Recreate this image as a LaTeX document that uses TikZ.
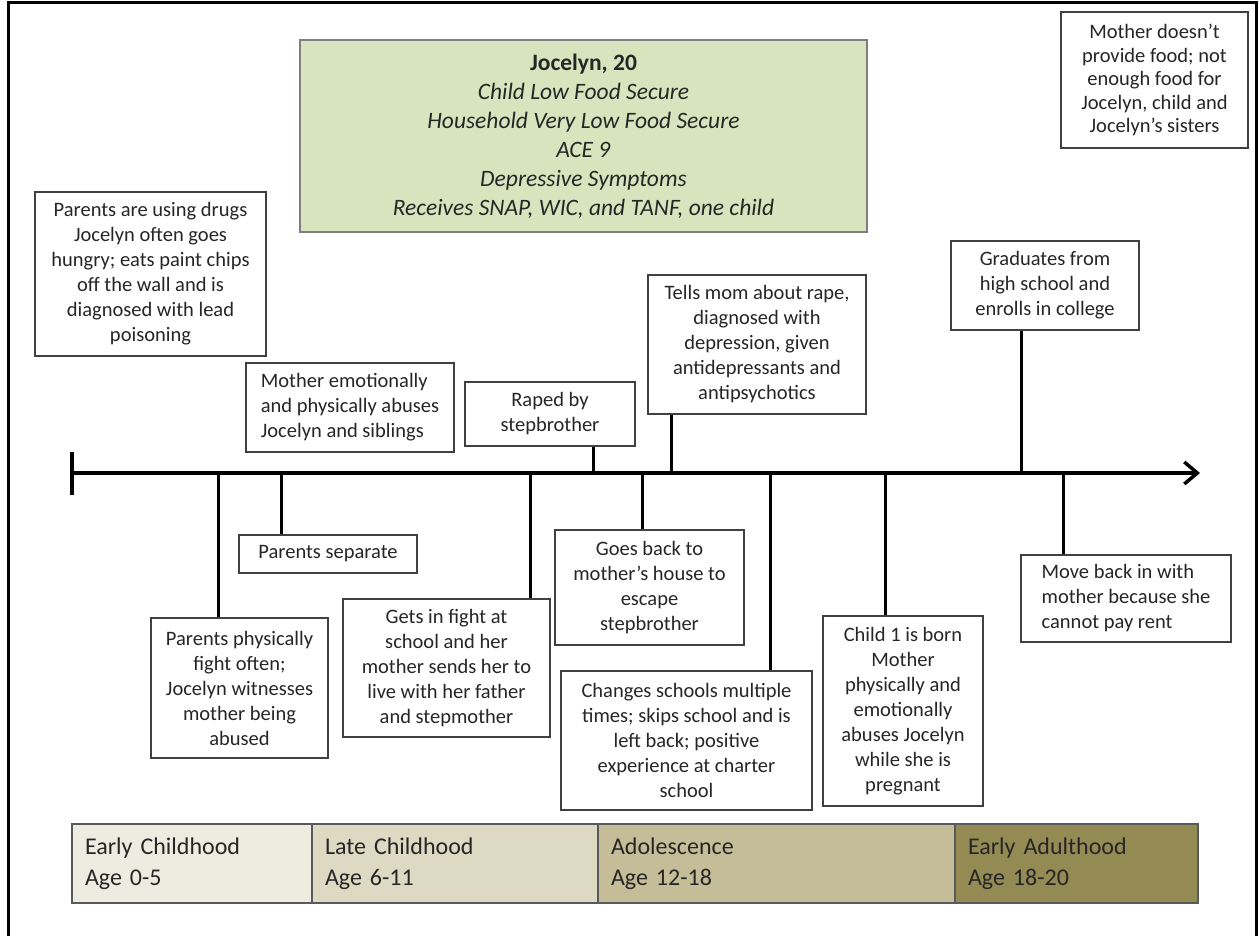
\documentclass[tikz,border=0pt]{standalone}
\usepackage{fontspec}
\setmainfont{Carlito}
\usetikzlibrary{arrows.meta}

\definecolor{boxline}{HTML}{404040}
\definecolor{txt}{HTML}{262626}
\definecolor{summaryfill}{HTML}{D7E4BD}
\definecolor{summaryline}{HTML}{7F7F7F}
\definecolor{bandA}{HTML}{EEECE1}
\definecolor{bandB}{HTML}{DDD9C3}
\definecolor{bandC}{HTML}{C4BD97}
\definecolor{bandD}{HTML}{948A54}
\definecolor{bandline}{HTML}{595959}

\begin{document}
\begin{tikzpicture}[x=1pt, y=-1pt,
  event/.style={draw=boxline, line width=1.4pt, fill=white, text=txt,
                align=center, inner sep=0pt, font=\fontsize{20.5}{25}\selectfont},
  eventleft/.style={event, align=left},
  summary/.style={draw=summaryline, line width=1.8pt, fill=summaryfill, text=txt,
                  align=center, inner sep=0pt, font=\fontsize{23.5}{29}\selectfont},
  band/.style={draw=bandline, line width=1.8pt, text=txt, align=left,
               inner xsep=13pt, minimum height=79pt, font=\fontsize{24}{31}\selectfont},
  tick/.style={line width=3pt},
  axisline/.style={line width=3.5pt, -{Straight Barb[length=13pt,width=22pt]}}
]
  \useasboundingbox (0,0) rectangle (1259,936);
  \draw[line width=3pt] (8.5,936) -- (8.5,3) -- (1256.5,3) -- (1256.5,936);

  % Ligne du temps
  \coordinate (start) at (72,473);
  \coordinate (end) at (1200,473);
  \draw[axisline] (start) -- (end);
  \draw[tick, line width=3.5pt] ([yshift=21pt]start) -- ([yshift=-22pt]start);
  \foreach \n/\x in {1/218, 2/281, 3/530, 4/593, 5/642, 6/671, 7/770, 8/885, 9/1021, 10/1063} {
    \coordinate (t\n) at (\x,473);
  }

  % Resume
  \node[summary, minimum width=567pt, minimum height=192pt] (summary) at (583.5,136)
    {\textbf{Jocelyn, 20}\\ \textit{Child Low Food Secure}\\ \textit{Household Very Low Food Secure}\\
     \textit{ACE 9}\\ \textit{Depressive Symptoms}\\ \textit{Receives SNAP, WIC, and TANF, one child}};

  % Evenements au-dessus
  \node[event, minimum width=231pt, minimum height=164pt] (drugs) at (150.5,274)
    {Parents are using drugs\\Jocelyn often goes\\hungry; eats paint chips\\off the wall and is\\diagnosed with lead\\poisoning};
  \node[eventleft, minimum width=208pt, minimum height=89pt] (abuse) at (350,407.5)
    {Mother emotionally\\and physically abuses\\Jocelyn and siblings};
  \node[event, minimum width=170pt, minimum height=64pt] (raped) at (550,414)
    {Raped by\\stepbrother};
  \node[event, minimum width=218pt, minimum height=139pt] (tells) at (757,344.5)
    {Tells mom about rape,\\diagnosed with\\depression, given\\antidepressants and\\antipsychotics};
  \node[event, minimum width=188pt, minimum height=89pt] (grad) at (1045,285.5)
    {Graduates from\\high school and\\enrolls in college};
  \node[event, minimum width=187pt, minimum height=136pt, font=\fontsize{20.5}{23.5}\selectfont] (food) at (1154.5,80)
    {Mother doesn’t\\provide food; not\\enough food for\\Jocelyn, child and\\Jocelyn’s sisters};

  % Evenements au-dessous
  \node[event, minimum width=178pt, minimum height=38pt] (separate) at (328,554)
    {Parents separate};
  \node[event, minimum width=177pt, minimum height=140pt] (physfight) at (239.5,688)
    {Parents physically\\fight often;\\Jocelyn witnesses\\mother being\\abused};
  \node[event, minimum width=207pt, minimum height=138pt] (schoolfight) at (446.5,668)
    {Gets in fight at\\school and her\\mother sends her to\\live with her father\\and stepmother};
  \node[event, minimum width=189pt, minimum height=115pt] (goesback) at (649.5,587.5)
    {Goes back to\\mother’s house to\\escape\\stepbrother};
  \node[event, minimum width=251pt, minimum height=139pt] (schools) at (686.5,740.5)
    {Changes schools multiple\\times; skips school and is\\left back; positive\\experience at charter\\school};
  \node[event, minimum width=160pt, minimum height=190pt] (child) at (903,711)
    {Child 1 is born\\Mother\\physically and\\emotionally\\abuses Jocelyn\\while she is\\pregnant};
  \node[eventleft, minimum width=210pt, minimum height=87pt] (moveback) at (1126,598.5)
    {Move back in with\\mother because she\\cannot pay rent};

  % Connexions
  \draw[tick] (t1) -- (physfight.north -| t1);
  \draw[tick] (t2) -- (separate.north -| t2);
  \draw[tick] (t3) -- (schoolfight.north -| t3);
  \draw[tick] (t4) -- (raped.south -| t4);
  \draw[tick] (t5) -- (goesback.north -| t5);
  \draw[tick] (t6) -- (tells.south -| t6);
  \draw[tick] (t7) -- (schools.north -| t7);
  \draw[tick] (t8) -- (child.north -| t8);
  \draw[tick] (t9) -- (grad.south -| t9);
  \draw[tick] (t10) -- (moveback.north -| t10);

  % Periodes
  \node[band, fill=bandA, text width=214pt] (early) at (192,863.5) {Early Childhood\\Age 0-5};
  \node[band, fill=bandB, text width=260pt] (late) at (455,863.5) {Late Childhood\\Age 6-11};
  \node[band, fill=bandC, text width=331pt] (adol) at (776.5,863.5) {Adolescence\\Age 12-18};
  \node[band, fill=bandD, text width=217pt] (adult) at (1076.5,863.5) {Early Adulthood\\Age 18-20};
\end{tikzpicture}
\end{document}
